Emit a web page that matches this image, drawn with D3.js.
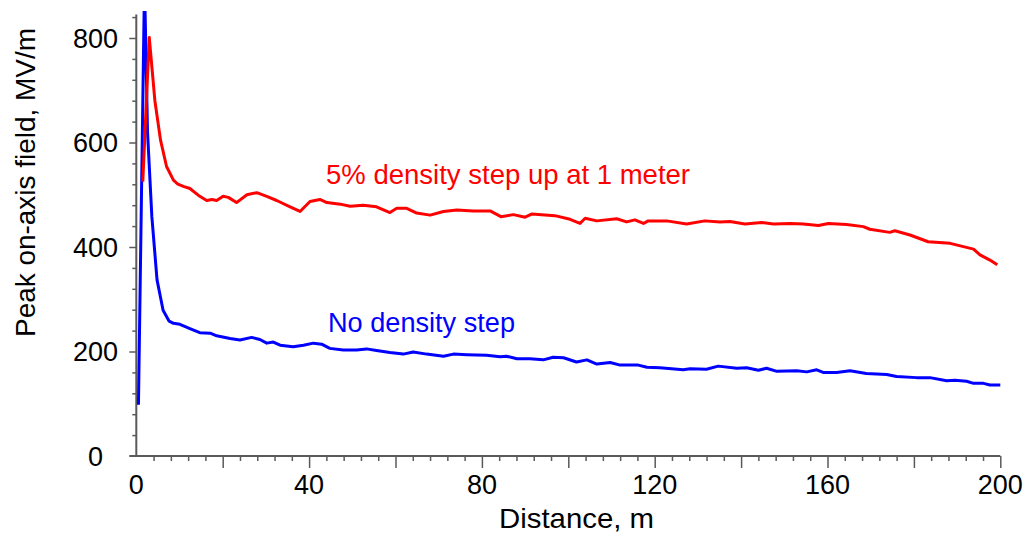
<!DOCTYPE html>
<html>
<head>
<meta charset="utf-8">
<script src="https://cdn.jsdelivr.net/npm/d3@7"></script>
<style>
  html, body { margin: 0; padding: 0; background: #fff; }
  svg text { font-family: "Liberation Sans", Arial, Helvetica, sans-serif; }
</style>
</head>
<body>
<svg id="chart" width="1025" height="541"></svg>
<script>
// Peak on-axis field (MV/m) versus distance (m)
const noStepDistance = [0.5, 1.9, 2.6, 3.6, 4.8, 6.2, 7.6, 8.6, 10.1, 12.4, 14.7, 17.1, 18.6, 21.7, 24.0, 26.7, 28.6, 30.2, 31.7, 33.3, 36.3, 38.7, 41.0, 42.9, 44.8, 47.9, 51.0, 53.3, 55.6, 58.7, 61.8, 64.1, 67.2, 71.1, 73.4, 76.5, 81.1, 84.2, 85.7, 88.1, 91.1, 94.2, 96.5, 98.9, 101.9, 104.3, 106.6, 109.7, 112.0, 116.2, 118.2, 121.2, 126.6, 128.2, 132.0, 134.7, 139.0, 141.3, 144.0, 145.9, 148.3, 152.9, 155.2, 157.5, 159.0, 162.1, 165.2, 169.0, 173.7, 176.0, 180.6, 183.7, 187.6, 189.5, 192.2, 193.8, 196.1, 197.6, 200.0];
const noStepField = [98, 905, 620, 458, 337, 279, 258, 254, 252, 244, 236, 235, 230, 225, 222, 227, 223, 216, 218, 212, 209, 212, 216, 214, 206, 203, 203, 205, 202, 198, 195, 199, 195, 191, 195, 194, 193, 190, 191, 186, 186, 184, 189, 188, 180, 184, 176, 179, 174, 174, 170, 169, 165, 167, 166, 172, 168, 169, 164, 168, 162, 163, 161, 165, 160, 160, 163, 158, 156, 152, 150, 150, 144, 145, 143, 139, 139, 136, 136];

const stepDistance = [1.5, 3.0, 4.3, 5.6, 7.0, 8.6, 9.5, 10.9, 12.4, 14.7, 16.3, 17.5, 18.6, 20.1, 21.3, 23.2, 25.6, 27.9, 30.2, 32.5, 35.6, 37.9, 40.2, 42.5, 44.1, 47.2, 49.5, 52.5, 55.6, 58.7, 60.3, 62.6, 64.9, 68.0, 71.1, 74.2, 78.0, 81.9, 84.4, 87.3, 90.0, 91.5, 96.9, 100.4, 102.7, 103.9, 106.6, 111.2, 113.5, 115.4, 117.4, 118.5, 122.8, 127.4, 131.6, 135.1, 137.4, 140.9, 144.8, 147.5, 151.3, 154.4, 157.9, 160.2, 164.4, 168.3, 169.8, 174.4, 175.6, 179.1, 183.3, 188.4, 193.8, 195.3, 197.6, 199.3];
const stepField = [525, 801, 680, 605, 554, 528, 521, 516, 512, 497, 489, 491, 489, 497, 495, 485, 500, 504, 497, 489, 477, 468, 487, 491, 485, 482, 478, 480, 477, 466, 474, 474, 465, 461, 468, 471, 469, 469, 458, 462, 457, 463, 460, 453, 445, 455, 450, 454, 448, 452, 445, 450, 450, 444, 450, 448, 449, 444, 447, 444, 445, 444, 441, 445, 443, 439, 434, 428, 431, 423, 410, 407, 396, 385, 375, 366];

const xLabelTicks = [0, 40, 80, 120, 160, 200];
const yLabelTicks = [0, 200, 400, 600, 800];

const seriesNames = ["No density step", "5% density step up at 1 meter"];
const seriesColors = ["#0000ff", "#ff0000"];

const svg = d3.select("#chart");
const x = d3.scaleLinear().domain([0, 200]).range([136.3, 1000.3]);
const y = d3.scaleLinear().domain([0, 800]).range([456, 38]);
const yTop = 845;
const axisColor = "#5a5a5a";

// plot-area clip so the tall spike is cut at the top edge
svg.append("defs").append("clipPath").attr("id", "plotClip")
  .append("rect").attr("x", x(0)).attr("y", 11).attr("width", x(200) - x(0) + 10).attr("height", y(0) - 11);

// x axis: minor ticks every 4 m, major every 20 m, labels every 40 m
const xAxisG = svg.append("g").attr("transform", `translate(0,${y(0)})`);
const xMinor = d3.range(4, 201, 4).filter(v => v % 20 !== 0);
const xMajor = d3.range(20, 201, 20);
xAxisG.append("g").call(d3.axisBottom(x).tickValues(xMinor).tickSize(5).tickFormat(""))
  .call(g => g.select(".domain").remove());
xAxisG.append("g").call(d3.axisBottom(x).tickValues(xMajor).tickSize(12).tickFormat(""))
  .call(g => g.select(".domain").remove());
xAxisG.selectAll(".tick line").attr("stroke", axisColor).attr("stroke-width", 1.5);
xAxisG.append("line").attr("x1", x(0) - 7).attr("x2", x(200)).attr("y1", 0).attr("y2", 0)
  .attr("stroke", axisColor).attr("stroke-width", 2);
xAxisG.selectAll(".xlab").data(xLabelTicks).enter().append("text")
  .attr("x", d => x(d)).attr("y", 38).attr("text-anchor", "middle")
  .attr("font-size", 27).attr("fill", "#000").text(d => d);

// y axis: minor ticks every 40, labels every 200
const yAxisG = svg.append("g").attr("transform", `translate(${x(0)},0)`);
const yMinor = d3.range(40, yTop, 40).filter(v => v % 200 !== 0);
yAxisG.append("g").call(d3.axisLeft(y).tickValues(yMinor).tickSize(4).tickFormat(""))
  .call(g => g.select(".domain").remove());
yAxisG.append("g").call(d3.axisLeft(y).tickValues(yLabelTicks.slice(1)).tickSize(7).tickFormat(""))
  .call(g => g.select(".domain").remove());
yAxisG.selectAll(".tick line").attr("stroke", axisColor).attr("stroke-width", 1.5);
yAxisG.append("line").attr("x1", 0).attr("x2", 0).attr("y1", y(0)).attr("y2", y(yTop))
  .attr("stroke", axisColor).attr("stroke-width", 2);
yAxisG.selectAll(".ylab").data(yLabelTicks).enter().append("text")
  .attr("x", 95.5 - x(0)).attr("y", d => y(d)).attr("dy", "0.36em").attr("text-anchor", "middle")
  .attr("font-size", 27).attr("fill", "#000").text(d => d);

// axis titles
svg.append("text").attr("x", 499).attr("y", 528)
  .attr("font-size", 28).attr("fill", "#000")
  .attr("textLength", 155).attr("lengthAdjust", "spacingAndGlyphs").text("Distance, m");
svg.append("text").attr("transform", "translate(35,337) rotate(-90)")
  .attr("font-size", 27).attr("fill", "#000")
  .attr("textLength", 309).attr("lengthAdjust", "spacingAndGlyphs").text("Peak on-axis field, MV/m");

// series
const line = d3.line().x(d => x(d[0])).y(d => y(d[1]));
const series = [
  d3.zip(noStepDistance, noStepField),
  d3.zip(stepDistance, stepField)
];
const plot = svg.append("g").attr("clip-path", "url(#plotClip)");
series.forEach((pts, i) => {
  plot.append("path").datum(pts).attr("d", line)
    .attr("fill", "none").attr("stroke", seriesColors[i]).attr("stroke-width", 3)
    .attr("stroke-linejoin", "round");
});

// inline series labels
svg.append("text").attr("x", 328).attr("y", 332).attr("font-size", 27.5)
  .attr("fill", seriesColors[0])
  .attr("textLength", 187).attr("lengthAdjust", "spacingAndGlyphs").text(seriesNames[0]);
svg.append("text").attr("x", 326).attr("y", 183.5).attr("font-size", 27.5)
  .attr("fill", seriesColors[1])
  .attr("textLength", 364).attr("lengthAdjust", "spacingAndGlyphs").text(seriesNames[1]);
</script>
</body>
</html>
